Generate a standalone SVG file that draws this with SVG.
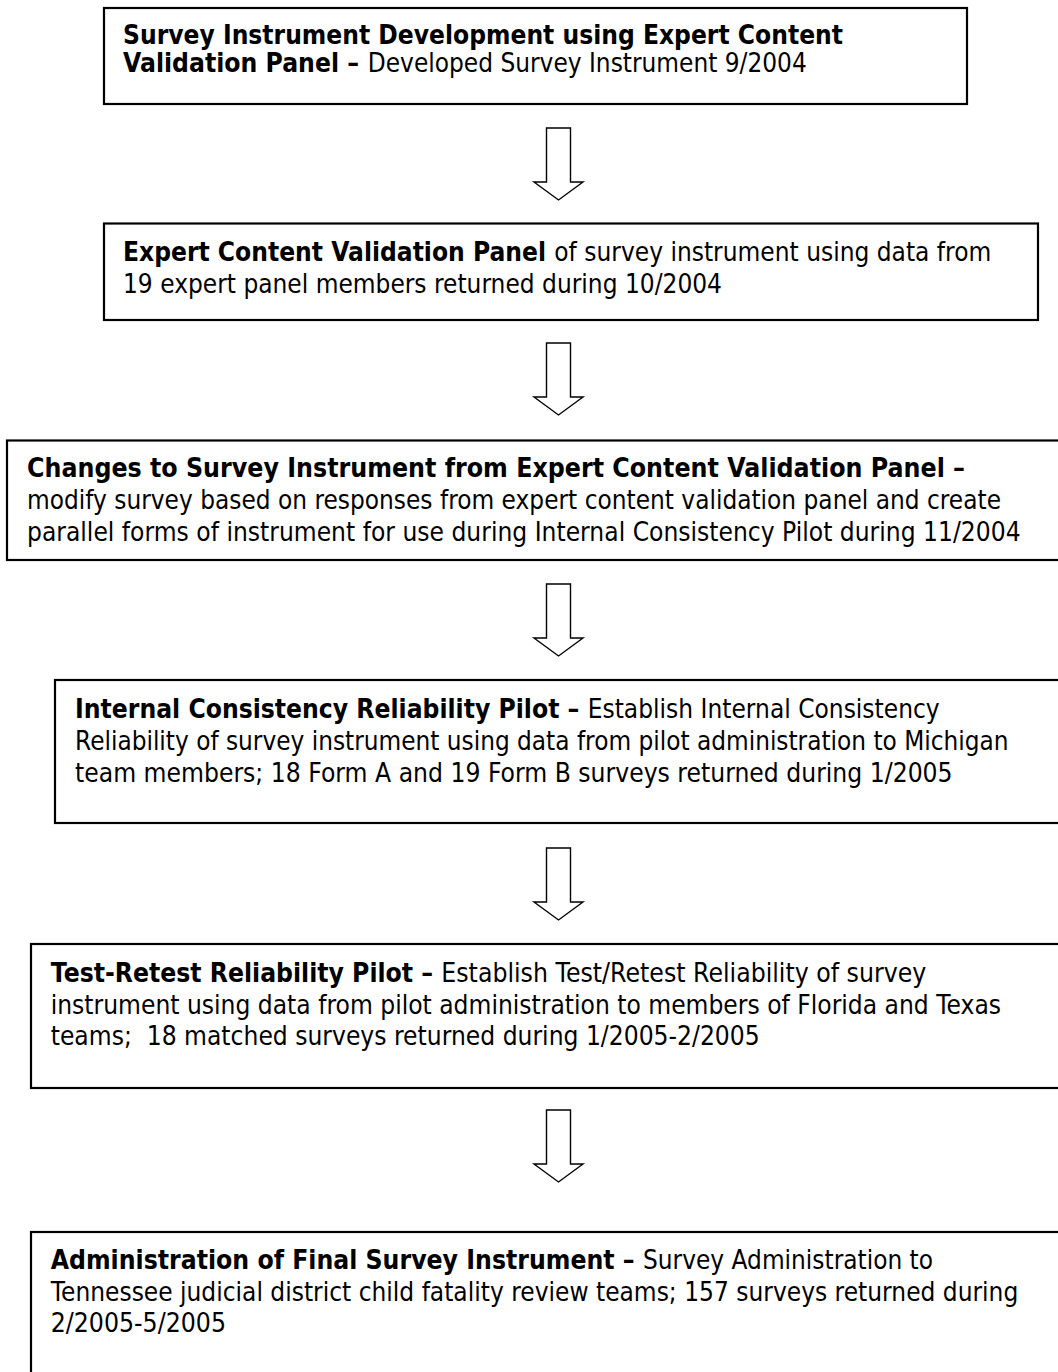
<svg xmlns="http://www.w3.org/2000/svg" xmlns:xlink="http://www.w3.org/1999/xlink" width="1058" height="1372" viewBox="0 0 1058 1372">
<style>
.box{fill:#fff;stroke:#000;stroke-width:2.2}
.arrow{fill:#fff;stroke:#000;stroke-width:1.4;stroke-linejoin:miter}
text{font-family:"DejaVu Sans","Verdana",sans-serif;font-size:26.8px;fill:#000}
.b{font-weight:bold}
</style>
<defs>
<path id="arr" class="arrow" d="M546.5,0 H570.5 V54 H583 L558.5,72 L534,54 H546.5 Z"/>
</defs>
<rect width="1058" height="1372" fill="#fff"/>
<g id="connectors">
<use xlink:href="#arr" href="#arr" transform="translate(0,128)"/>
<use xlink:href="#arr" href="#arr" transform="translate(0,343)"/>
<use xlink:href="#arr" href="#arr" transform="translate(0,584)"/>
<use xlink:href="#arr" href="#arr" transform="translate(0,848)"/>
<use xlink:href="#arr" href="#arr" transform="translate(0,1110)"/>
</g>
<g id="node1">
<rect class="box" x="104" y="8" width="863" height="96"/>
<text class="b" x="123" y="44.3" textLength="720" lengthAdjust="spacingAndGlyphs">Survey Instrument Development using Expert Content</text>
<text class="b" x="123" y="71.5" textLength="236" lengthAdjust="spacingAndGlyphs">Validation Panel –</text>
<text x="367.8" y="71.5" textLength="439" lengthAdjust="spacingAndGlyphs">Developed Survey Instrument 9/2004</text>
</g>
<g id="node2">
<rect class="box" x="104" y="223.5" width="934" height="96.5"/>
<text class="b" x="123" y="261" textLength="423" lengthAdjust="spacingAndGlyphs">Expert Content Validation Panel</text>
<text x="554.3" y="261" textLength="437" lengthAdjust="spacingAndGlyphs">of survey instrument using data from</text>
<text x="123" y="292.5" textLength="599" lengthAdjust="spacingAndGlyphs">19 expert panel members returned during 10/2004</text>
</g>
<g id="node3">
<rect class="box" x="7" y="440.5" width="1080" height="119.5"/>
<text class="b" x="27" y="477" textLength="938" lengthAdjust="spacingAndGlyphs">Changes to Survey Instrument from Expert Content Validation Panel –</text>
<text x="27" y="509" textLength="974" lengthAdjust="spacingAndGlyphs">modify survey based on responses from expert content validation panel and create</text>
<text x="27" y="541" textLength="993.6" lengthAdjust="spacingAndGlyphs">parallel forms of instrument for use during Internal Consistency Pilot during 11/2004</text>
</g>
<g id="node4">
<rect class="box" x="55" y="680" width="1030" height="143"/>
<text class="b" x="75" y="718" textLength="504.4" lengthAdjust="spacingAndGlyphs">Internal Consistency Reliability Pilot –</text>
<text x="587.7" y="718" textLength="352" lengthAdjust="spacingAndGlyphs">Establish Internal Consistency</text>
<text x="75" y="750" textLength="933.6" lengthAdjust="spacingAndGlyphs">Reliability of survey instrument using data from pilot administration to Michigan</text>
<text x="75" y="782" textLength="877.6" lengthAdjust="spacingAndGlyphs">team members; 18 Form A and 19 Form B surveys returned during 1/2005</text>
</g>
<g id="node5">
<rect class="box" x="31" y="944" width="1060" height="144"/>
<text class="b" x="50.7" y="982" textLength="382.4" lengthAdjust="spacingAndGlyphs">Test-Retest Reliability Pilot –</text>
<text x="441.3" y="982" textLength="485" lengthAdjust="spacingAndGlyphs">Establish Test/Retest Reliability of survey</text>
<text x="50.7" y="1013.7" textLength="950.4" lengthAdjust="spacingAndGlyphs">instrument using data from pilot administration to members of Florida and Texas</text>
<text x="50.7" y="1045.4" textLength="709" lengthAdjust="spacingAndGlyphs" xml:space="preserve">teams;  18 matched surveys returned during 1/2005-2/2005</text>
</g>
<g id="node6">
<rect class="box" x="31" y="1232" width="1060" height="160"/>
<text class="b" x="50.7" y="1268.5" textLength="584" lengthAdjust="spacingAndGlyphs">Administration of Final Survey Instrument –</text>
<text x="643" y="1268.5" textLength="290" lengthAdjust="spacingAndGlyphs">Survey Administration to</text>
<text x="50.7" y="1300.5" textLength="967.6" lengthAdjust="spacingAndGlyphs">Tennessee judicial district child fatality review teams; 157 surveys returned during</text>
<text x="50.7" y="1332" textLength="175.3" lengthAdjust="spacingAndGlyphs">2/2005-5/2005</text>
</g>
</svg>
